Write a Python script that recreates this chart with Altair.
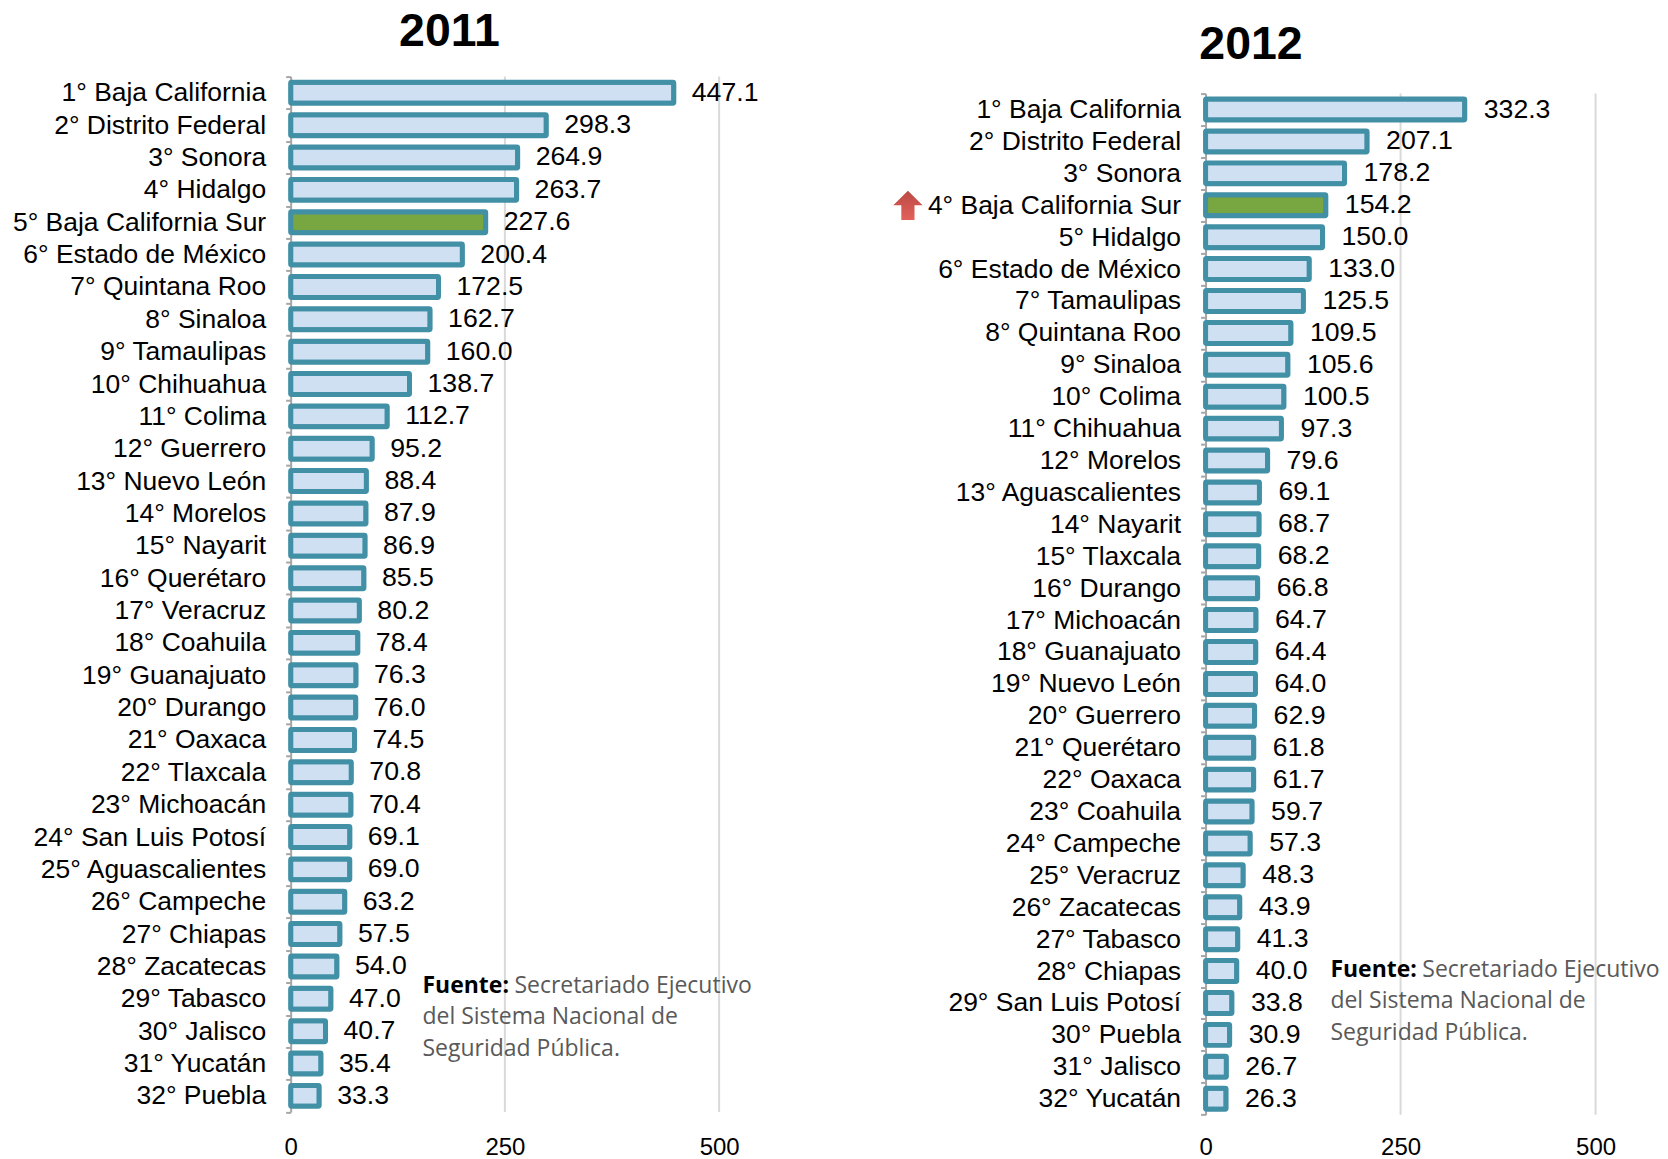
import altair as alt
import pandas as pd

names_2011 = ["1° Baja California","2° Distrito Federal","3° Sonora","4° Hidalgo","5° Baja California Sur","6° Estado de México","7° Quintana Roo","8° Sinaloa","9° Tamaulipas","10° Chihuahua","11° Colima","12° Guerrero","13° Nuevo León","14° Morelos","15° Nayarit","16° Querétaro","17° Veracruz","18° Coahuila","19° Guanajuato","20° Durango","21° Oaxaca","22° Tlaxcala","23° Michoacán","24° San Luis Potosí","25° Aguascalientes","26° Campeche","27° Chiapas","28° Zacatecas","29° Tabasco","30° Jalisco","31° Yucatán","32° Puebla"]
values_2011 = [447.1,298.3,264.9,263.7,227.6,200.4,172.5,162.7,160.0,138.7,112.7,95.2,88.4,87.9,86.9,85.5,80.2,78.4,76.3,76.0,74.5,70.8,70.4,69.1,69.0,63.2,57.5,54.0,47.0,40.7,35.4,33.3]
names_2012 = ["1° Baja California","2° Distrito Federal","3° Sonora","4° Baja California Sur","5° Hidalgo","6° Estado de México","7° Tamaulipas","8° Quintana Roo","9° Sinaloa","10° Colima","11° Chihuahua","12° Morelos","13° Aguascalientes","14° Nayarit","15° Tlaxcala","16° Durango","17° Michoacán","18° Guanajuato","19° Nuevo León","20° Guerrero","21° Querétaro","22° Oaxaca","23° Coahuila","24° Campeche","25° Veracruz","26° Zacatecas","27° Tabasco","28° Chiapas","29° San Luis Potosí","30° Puebla","31° Jalisco","32° Yucatán"]
values_2012 = [332.3,207.1,178.2,154.2,150.0,133.0,125.5,109.5,105.6,100.5,97.3,79.6,69.1,68.7,68.2,66.8,64.7,64.4,64.0,62.9,61.8,61.7,59.7,57.3,48.3,43.9,41.3,40.0,33.8,30.9,26.7,26.3]
highlight = "Baja California Sur"
x_ticks = [0, 250, 500]
grid_values = [250, 500]
source_lines = ["Secretariado Ejecutivo", "del Sistema Nacional de", "Seguridad Pública."]
source_head = "Fuente:"

FONT = "Liberation Sans"
SRC = "Open Sans"


def panel(year, names, values, plot_w, plot_h, top, title_dx, title_dy, src_x, src_y, label_dx, x_pad, arrow_row=None):
    df = pd.DataFrame({"name": names, "value": values})
    df["hl"] = [highlight in n for n in names]
    base = alt.Chart(df)
    y = alt.Y("name:N", sort=names, title=None,
              scale=alt.Scale(range=[top, plot_h], paddingInner=0, paddingOuter=0),
              axis=alt.Axis(labelFont=FONT, labelFontSize=26.5, labelColor="#000000", labelPadding=20,
                            labelLimit=400, tickBand="extent", tickSize=5, tickColor="#a6a6a6", tickWidth=2,
                            domainColor="#a6a6a6", domainWidth=2, grid=False))
    x = alt.X("value:Q", title=None,
              scale=alt.Scale(domain=[0, 500], nice=False),
              axis=alt.Axis(values=x_ticks, grid=False, domain=False, ticks=False, labelFont=FONT,
                            labelFontSize=24, labelColor="#000000", labelPadding=x_pad, labelBaseline="top",
                            labelFlush=False))
    grid = alt.Chart(pd.DataFrame({"g": grid_values})).mark_rule(color="#d9d9d9", strokeWidth=2).encode(
        x=alt.X("g:Q", scale=alt.Scale(domain=[0, 500], nice=False), title=None),
        y=alt.value(top), y2=alt.value(plot_h))
    bars = base.mark_bar(size=21, stroke="#4290a6", strokeWidth=5, cornerRadius=1).encode(
        x=x, y=y,
        color=alt.Color("hl:N", legend=None,
                        scale=alt.Scale(domain=[False, True], range=["#cfe0f2", "#78a640"])))
    labels = base.mark_text(align="left", baseline="middle", dx=label_dx, font=FONT, fontSize=26.7,
                            color="#000000").encode(x=x, y=y, text=alt.Text("value:Q", format=".1f"))
    head = alt.Chart(pd.DataFrame({"t": [source_head]})).mark_text(
        align="left", baseline="middle", font=SRC, fontSize=23, fontWeight="bold", color="#000000").encode(
        x=alt.value(src_x), y=alt.value(src_y), text="t:N")
    rows = []
    for i, line in enumerate(source_lines):
        rows.append(alt.Chart(pd.DataFrame({"t": [line]})).mark_text(
            align="left", baseline="middle", font=SRC, fontSize=23, color="#595959").encode(
            x=alt.value(src_x + (92 if i == 0 else 0)), y=alt.value(src_y + 32 * i), text="t:N"))
    layers = [grid, bars, labels, head] + rows
    if arrow_row is not None:
        arrow = alt.Chart(pd.DataFrame({"name": [names[arrow_row]]})).mark_point(
            shape="M0,-1 L1,0 L0.45,0 L0.45,1 L-0.45,1 L-0.45,0 L-1,0 Z", size=860, filled=True, opacity=1,
            fill=alt.LinearGradient(gradient="linear",
                                    stops=[alt.GradientStop(color="#bb4a44", offset=0),
                                           alt.GradientStop(color="#e2605a", offset=1)],
                                    x1=0, x2=0, y1=0, y2=1), strokeWidth=0).encode(
            x=alt.value(-298), y=alt.Y("name:N", sort=names, title=None,
                                       scale=alt.Scale(range=[top, plot_h], paddingInner=0, paddingOuter=0)))
        layers.append(arrow)
    return alt.layer(*layers).properties(
        width=plot_w, height=plot_h,
        title=alt.TitleParams(year, anchor="start", align="center", frame="group", dx=title_dx, dy=title_dy,
                              font=FONT, fontSize=46.5, fontWeight="bold", color="#000000", offset=9))


left = panel("2011", names_2011, values_2011, 429, 1036.7, 0, 159, 1, 132, 910, 18, 23)
right = panel("2012", names_2012, values_2012, 390.5, 1039.3, 17, 45.5, 14, 125, 894, 19, 21, arrow_row=3)

chart = alt.hconcat(left, right, spacing=134).resolve_scale(x="independent", y="independent", color="independent").properties(
    padding={"left": 4, "top": 0, "right": 0, "bottom": 0}
).configure_view(stroke=None)

chart.save("out.html", embed_options={"renderer": "svg", "actions": False})
